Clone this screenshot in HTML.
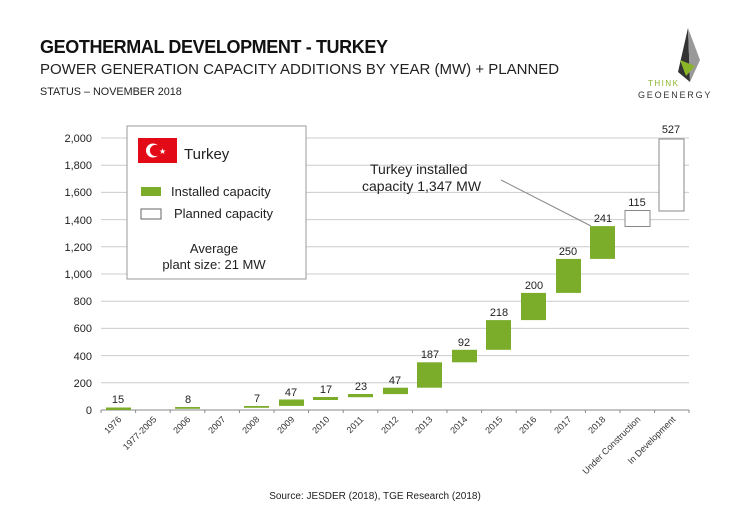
<!DOCTYPE html>
<html><head><meta charset="utf-8"><style>
body{margin:0;background:#fff;width:750px;height:510px;overflow:hidden;font-family:"Liberation Sans",sans-serif;}
</style></head><body>
<svg width="750" height="510" xmlns="http://www.w3.org/2000/svg" font-family="Liberation Sans, sans-serif">
<text x="40" y="53" font-size="18" font-weight="bold" fill="#111" textLength="348">GEOTHERMAL DEVELOPMENT - TURKEY</text>
<text x="40" y="74" font-size="15" fill="#222">POWER GENERATION CAPACITY ADDITIONS BY YEAR (MW) + PLANNED</text>
<text x="40" y="95" font-size="10.8" fill="#222">STATUS – NOVEMBER 2018</text>
<!-- logo -->
<polygon points="688,28 678,72 690,82" fill="#333"/>
<polygon points="688,28 700,60 690,82" fill="#999"/>
<polygon points="680,60 695,66 686,76" fill="#8ab528"/>
<text x="648" y="86" font-size="8" fill="#8ab528" letter-spacing="1.5">THINK</text>
<text x="638" y="98" font-size="9" fill="#333" letter-spacing="1.8">GEOENERGY</text>
<!-- grid -->
<g stroke="#ccc" stroke-width="1">
<line x1="101" x2="689" y1="138" y2="138"/><line x1="101" x2="689" y1="165.2" y2="165.2"/>
<line x1="101" x2="689" y1="192.4" y2="192.4"/><line x1="101" x2="689" y1="219.6" y2="219.6"/>
<line x1="101" x2="689" y1="246.8" y2="246.8"/><line x1="101" x2="689" y1="274" y2="274"/>
<line x1="101" x2="689" y1="301.2" y2="301.2"/><line x1="101" x2="689" y1="328.4" y2="328.4"/>
<line x1="101" x2="689" y1="355.6" y2="355.6"/><line x1="101" x2="689" y1="382.8" y2="382.8"/>
</g>
<line x1="101" x2="689" y1="410" y2="410" stroke="#888"/>
<g stroke="#888"><line x1="101" x2="101" y1="410" y2="413"/><line x1="135.6" x2="135.6" y1="410" y2="413"/><line x1="170.2" x2="170.2" y1="410" y2="413"/><line x1="204.8" x2="204.8" y1="410" y2="413"/><line x1="239.4" x2="239.4" y1="410" y2="413"/><line x1="274" x2="274" y1="410" y2="413"/><line x1="308.6" x2="308.6" y1="410" y2="413"/><line x1="343.2" x2="343.2" y1="410" y2="413"/><line x1="377.8" x2="377.8" y1="410" y2="413"/><line x1="412.4" x2="412.4" y1="410" y2="413"/><line x1="447" x2="447" y1="410" y2="413"/><line x1="481.6" x2="481.6" y1="410" y2="413"/><line x1="516.2" x2="516.2" y1="410" y2="413"/><line x1="550.8" x2="550.8" y1="410" y2="413"/><line x1="585.4" x2="585.4" y1="410" y2="413"/><line x1="620" x2="620" y1="410" y2="413"/><line x1="654.6" x2="654.6" y1="410" y2="413"/><line x1="689" x2="689" y1="410" y2="413"/></g>
<g font-size="11" fill="#222" text-anchor="end">
<text x="92" y="142">2,000</text><text x="92" y="169">1,800</text><text x="92" y="196">1,600</text><text x="92" y="224">1,400</text><text x="92" y="251">1,200</text><text x="92" y="278">1,000</text><text x="92" y="305">800</text><text x="92" y="332">600</text><text x="92" y="360">400</text><text x="92" y="387">200</text><text x="92" y="414">0</text>
</g>
<!-- bars -->
<g fill="#7cad2a">
<rect x="106" y="407.5" width="25" height="2.5"/>
<rect x="175" y="407" width="25" height="1.8"/>
<rect x="244" y="406" width="25" height="1.8"/>
<rect x="279" y="399.5" width="25" height="6.4"/>
<rect x="313" y="397" width="25" height="3"/>
<rect x="348" y="394" width="25" height="3.2"/>
<rect x="383" y="387.7" width="25" height="6.4"/>
<rect x="417" y="362.3" width="25" height="25.4"/>
<rect x="452" y="349.8" width="25" height="12.5"/>
<rect x="486" y="320.1" width="25" height="29.7"/>
<rect x="521" y="292.9" width="25" height="27.2"/>
<rect x="556" y="258.9" width="25" height="34"/>
<rect x="590" y="226.1" width="25" height="32.8"/>
</g>
<g fill="#fff" stroke="#888"><rect x="625" y="210.5" width="25" height="16"/><rect x="659" y="139" width="25" height="72"/></g>
<g font-size="11" fill="#222" text-anchor="middle">
<text x="118" y="403">15</text><text x="188" y="403">8</text><text x="257" y="402">7</text><text x="291" y="396">47</text><text x="326" y="393">17</text><text x="361" y="390">23</text><text x="395" y="384">47</text><text x="430" y="358">187</text><text x="464" y="346">92</text><text x="499" y="316">218</text><text x="534" y="289">200</text><text x="568" y="255">250</text><text x="603" y="222">241</text><text x="637" y="206">115</text><text x="671" y="133">527</text>
</g>
<!-- x labels -->
<g font-size="9" fill="#333" text-anchor="end">
<text transform="translate(122,420) rotate(-45)">1976</text>
<text transform="translate(157,420) rotate(-45)">1977-2005</text>
<text transform="translate(191,420) rotate(-45)">2006</text>
<text transform="translate(226,420) rotate(-45)">2007</text>
<text transform="translate(260,420) rotate(-45)">2008</text>
<text transform="translate(295,420) rotate(-45)">2009</text>
<text transform="translate(330,420) rotate(-45)">2010</text>
<text transform="translate(364,420) rotate(-45)">2011</text>
<text transform="translate(399,420) rotate(-45)">2012</text>
<text transform="translate(433,420) rotate(-45)">2013</text>
<text transform="translate(468,420) rotate(-45)">2014</text>
<text transform="translate(503,420) rotate(-45)">2015</text>
<text transform="translate(537,420) rotate(-45)">2016</text>
<text transform="translate(572,420) rotate(-45)">2017</text>
<text transform="translate(606,420) rotate(-45)">2018</text>
<text transform="translate(641,420) rotate(-45)">Under Construction</text>
<text transform="translate(676,420) rotate(-45)">In Development</text>
</g>
<!-- legend box -->
<rect x="127" y="126" width="179" height="153" fill="#fff" stroke="#999"/>
<rect x="138" y="138" width="39" height="25" fill="#e30a17"/>
<circle cx="153" cy="150.5" r="7" fill="#fff"/><circle cx="155.5" cy="150.5" r="5.6" fill="#e30a17"/>
<text x="159" y="154" font-size="8" fill="#fff">★</text>
<text x="184" y="159" font-size="15" fill="#222">Turkey</text>
<rect x="141" y="187" width="20" height="9" fill="#7cad2a"/>
<text x="171" y="196" font-size="13" fill="#222">Installed capacity</text>
<rect x="141" y="209" width="20" height="10" fill="#fff" stroke="#666"/>
<text x="174" y="218" font-size="13" fill="#222">Planned capacity</text>
<text x="214" y="253" font-size="13" fill="#222" text-anchor="middle">Average</text>
<text x="214" y="269" font-size="13" fill="#222" text-anchor="middle">plant size: 21 MW</text>
<!-- annotation -->
<text x="370" y="174" font-size="14" fill="#222">Turkey installed</text>
<text x="362" y="191" font-size="14" fill="#222">capacity 1,347 MW</text>
<line x1="501" y1="180" x2="591" y2="226" stroke="#888"/>
<text x="375" y="499" font-size="10" fill="#222" text-anchor="middle">Source: JESDER (2018), TGE Research (2018)</text>
</svg>
</body></html>
